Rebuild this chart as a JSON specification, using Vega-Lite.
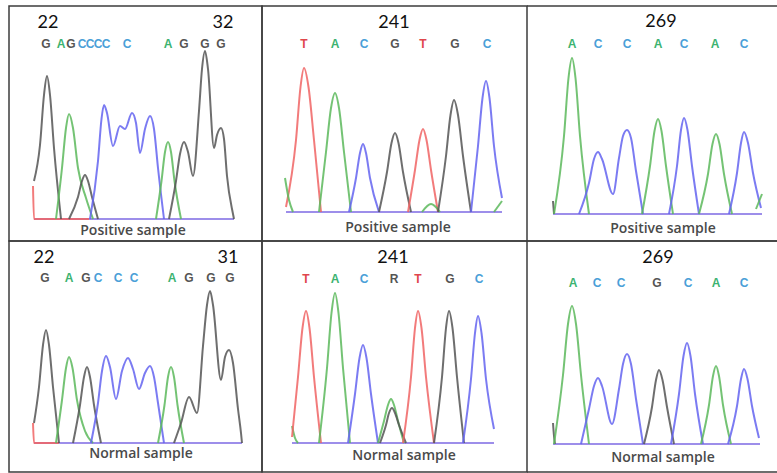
{
"$schema": "https://vega.github.io/schema/vega-lite/v6.json",
"padding": {"left": 8, "top": 5, "right": 0, "bottom": 2},
"background": "white",
"config": {"view": {"stroke": "#3c3c3c", "strokeWidth": 1.5}, "concat": {"spacing": 0}},
"datasets": {
"tr": [
{"p":1,"s":"1z","b":"base","x":25,"y":0},{"p":1,"s":"1z","b":"base","x":225,"y":0},
{"p":1,"s":"1r","b":"T","x":24,"y":33},{"p":1,"s":"1r","b":"T","x":25,"y":0},{"p":1,"s":"1r","b":"T","x":80,"y":0},
{"p":1,"s":"1g1","b":"G","x":25,"y":38},{"p":1,"s":"1g1","b":"G","x":31,"y":74},{"p":1,"s":"1g1","b":"G","x":35,"y":124},{"p":1,"s":"1g1","b":"G","x":38,"y":143},{"p":1,"s":"1g1","b":"G","x":41,"y":124},{"p":1,"s":"1g1","b":"G","x":45,"y":71},{"p":1,"s":"1g1","b":"G","x":52,"y":0},
{"p":1,"s":"1a1","b":"A","x":47,"y":0},{"p":1,"s":"1a1","b":"A","x":53,"y":51},{"p":1,"s":"1a1","b":"A","x":57,"y":91},{"p":1,"s":"1a1","b":"A","x":60,"y":105},{"p":1,"s":"1a1","b":"A","x":64,"y":91},{"p":1,"s":"1a1","b":"A","x":69,"y":51},{"p":1,"s":"1a1","b":"A","x":77,"y":21},{"p":1,"s":"1a1","b":"A","x":84,"y":0},
{"p":1,"s":"1g2","b":"G","x":60,"y":0},{"p":1,"s":"1g2","b":"G","x":69,"y":22},{"p":1,"s":"1g2","b":"G","x":73,"y":38},{"p":1,"s":"1g2","b":"G","x":76,"y":44},{"p":1,"s":"1g2","b":"G","x":79,"y":38},{"p":1,"s":"1g2","b":"G","x":83,"y":22},{"p":1,"s":"1g2","b":"G","x":89,"y":0},
{"p":1,"s":"1c","b":"C","x":81,"y":0},{"p":1,"s":"1c","b":"C","x":89,"y":58},{"p":1,"s":"1c","b":"C","x":92.5,"y":100},{"p":1,"s":"1c","b":"C","x":95,"y":114},{"p":1,"s":"1c","b":"C","x":98,"y":106},{"p":1,"s":"1c","b":"C","x":104,"y":73},{"p":1,"s":"1c","b":"C","x":111,"y":93},{"p":1,"s":"1c","b":"C","x":116,"y":90},{"p":1,"s":"1c","b":"C","x":123,"y":106},{"p":1,"s":"1c","b":"C","x":127,"y":96},{"p":1,"s":"1c","b":"C","x":131,"y":66},{"p":1,"s":"1c","b":"C","x":136,"y":90},{"p":1,"s":"1c","b":"C","x":141,"y":103},{"p":1,"s":"1c","b":"C","x":145,"y":90},{"p":1,"s":"1c","b":"C","x":149,"y":51},{"p":1,"s":"1c","b":"C","x":155,"y":0},
{"p":1,"s":"1a2","b":"A","x":147,"y":0},{"p":1,"s":"1a2","b":"A","x":152.5,"y":38},{"p":1,"s":"1a2","b":"A","x":156,"y":67},{"p":1,"s":"1a2","b":"A","x":159,"y":77},{"p":1,"s":"1a2","b":"A","x":162,"y":67},{"p":1,"s":"1a2","b":"A","x":165.5,"y":38},{"p":1,"s":"1a2","b":"A","x":172,"y":0},
{"p":1,"s":"1g3","b":"G","x":160,"y":0},{"p":1,"s":"1g3","b":"G","x":167,"y":38},{"p":1,"s":"1g3","b":"G","x":171,"y":65},{"p":1,"s":"1g3","b":"G","x":175,"y":77},{"p":1,"s":"1g3","b":"G","x":179,"y":67},{"p":1,"s":"1g3","b":"G","x":184,"y":43},{"p":1,"s":"1g3","b":"G","x":190,"y":108},{"p":1,"s":"1g3","b":"G","x":193,"y":150},{"p":1,"s":"1g3","b":"G","x":196,"y":168},{"p":1,"s":"1g3","b":"G","x":199,"y":150},{"p":1,"s":"1g3","b":"G","x":205,"y":71},{"p":1,"s":"1g3","b":"G","x":208,"y":84},{"p":1,"s":"1g3","b":"G","x":212,"y":91},{"p":1,"s":"1g3","b":"G","x":215,"y":80},{"p":1,"s":"1g3","b":"G","x":218,"y":43},{"p":1,"s":"1g3","b":"G","x":224,"y":5},{"p":1,"s":"1g3","b":"G","x":225,"y":0},

{"p":2,"s":"2z","b":"base","x":24,"y":0},{"p":2,"s":"2z","b":"base","x":240,"y":0},
{"p":2,"s":"2t1","b":"T","x":24,"y":5},{"p":2,"s":"2t1","b":"T","x":34,"y":72},{"p":2,"s":"2t1","b":"T","x":38.5,"y":125},{"p":2,"s":"2t1","b":"T","x":42,"y":144},{"p":2,"s":"2t1","b":"T","x":46.5,"y":125},{"p":2,"s":"2t1","b":"T","x":52,"y":72},{"p":2,"s":"2t1","b":"T","x":59,"y":0},
{"p":2,"s":"2a0","b":"A","x":23,"y":34},{"p":2,"s":"2a0","b":"A","x":27,"y":12},{"p":2,"s":"2a0","b":"A","x":31,"y":0},
{"p":2,"s":"2a1","b":"A","x":57,"y":0},{"p":2,"s":"2a1","b":"A","x":64,"y":60},{"p":2,"s":"2a1","b":"A","x":69,"y":104},{"p":2,"s":"2a1","b":"A","x":73,"y":119},{"p":2,"s":"2a1","b":"A","x":77,"y":104},{"p":2,"s":"2a1","b":"A","x":82,"y":60},{"p":2,"s":"2a1","b":"A","x":89,"y":0},
{"p":2,"s":"2c1","b":"C","x":87,"y":0},{"p":2,"s":"2c1","b":"C","x":94,"y":34},{"p":2,"s":"2c1","b":"C","x":98,"y":59},{"p":2,"s":"2c1","b":"C","x":101,"y":68},{"p":2,"s":"2c1","b":"C","x":104,"y":59},{"p":2,"s":"2c1","b":"C","x":108,"y":34},{"p":2,"s":"2c1","b":"C","x":117,"y":0},
{"p":2,"s":"2g1","b":"G","x":117,"y":0},{"p":2,"s":"2g1","b":"G","x":125,"y":40},{"p":2,"s":"2g1","b":"G","x":129.5,"y":69},{"p":2,"s":"2g1","b":"G","x":133,"y":79},{"p":2,"s":"2g1","b":"G","x":136.5,"y":69},{"p":2,"s":"2g1","b":"G","x":141,"y":40},{"p":2,"s":"2g1","b":"G","x":149,"y":0},
{"p":2,"s":"2t2","b":"T","x":146,"y":0},{"p":2,"s":"2t2","b":"T","x":153,"y":42},{"p":2,"s":"2t2","b":"T","x":157.5,"y":72},{"p":2,"s":"2t2","b":"T","x":161,"y":83},{"p":2,"s":"2t2","b":"T","x":164.5,"y":72},{"p":2,"s":"2t2","b":"T","x":169,"y":42},{"p":2,"s":"2t2","b":"T","x":176,"y":0},
{"p":2,"s":"2a2","b":"A","x":160,"y":0},{"p":2,"s":"2a2","b":"A","x":169,"y":8},{"p":2,"s":"2a2","b":"A","x":178,"y":0},
{"p":2,"s":"2g2","b":"G","x":176,"y":0},{"p":2,"s":"2g2","b":"G","x":184,"y":56},{"p":2,"s":"2g2","b":"G","x":188.5,"y":97},{"p":2,"s":"2g2","b":"G","x":192,"y":112},{"p":2,"s":"2g2","b":"G","x":196,"y":97},{"p":2,"s":"2g2","b":"G","x":201,"y":56},{"p":2,"s":"2g2","b":"G","x":209,"y":0},
{"p":2,"s":"2c2","b":"C","x":209,"y":0},{"p":2,"s":"2c2","b":"C","x":216,"y":66},{"p":2,"s":"2c2","b":"C","x":220.5,"y":114},{"p":2,"s":"2c2","b":"C","x":224,"y":131},{"p":2,"s":"2c2","b":"C","x":227.5,"y":114},{"p":2,"s":"2c2","b":"C","x":232,"y":66},{"p":2,"s":"2c2","b":"C","x":240,"y":14},
{"p":2,"s":"2a3","b":"A","x":232,"y":0},{"p":2,"s":"2a3","b":"A","x":240,"y":11},

{"p":3,"s":"3z","b":"base","x":26,"y":0},{"p":3,"s":"3z","b":"base","x":235,"y":0},
{"p":3,"s":"3g0","b":"G","x":26,"y":13},{"p":3,"s":"3g0","b":"G","x":27,"y":0},
{"p":3,"s":"3a1","b":"A","x":27,"y":0},{"p":3,"s":"3a1","b":"A","x":37,"y":78},{"p":3,"s":"3a1","b":"A","x":41.5,"y":136},{"p":3,"s":"3a1","b":"A","x":45,"y":156},{"p":3,"s":"3a1","b":"A","x":48.5,"y":136},{"p":3,"s":"3a1","b":"A","x":53,"y":78},{"p":3,"s":"3a1","b":"A","x":62,"y":0},
{"p":3,"s":"3c1","b":"C","x":52,"y":0},{"p":3,"s":"3c1","b":"C","x":62,"y":31},{"p":3,"s":"3c1","b":"C","x":67,"y":55},{"p":3,"s":"3c1","b":"C","x":71,"y":62},{"p":3,"s":"3c1","b":"C","x":75,"y":55},{"p":3,"s":"3c1","b":"C","x":86,"y":20},{"p":3,"s":"3c1","b":"C","x":92,"y":56},{"p":3,"s":"3c1","b":"C","x":96,"y":78},{"p":3,"s":"3c1","b":"C","x":100,"y":84},{"p":3,"s":"3c1","b":"C","x":104,"y":76},{"p":3,"s":"3c1","b":"C","x":109,"y":43},{"p":3,"s":"3c1","b":"C","x":116,"y":0},
{"p":3,"s":"3a2","b":"A","x":115,"y":0},{"p":3,"s":"3a2","b":"A","x":123,"y":48},{"p":3,"s":"3a2","b":"A","x":127.5,"y":83},{"p":3,"s":"3a2","b":"A","x":131,"y":95},{"p":3,"s":"3a2","b":"A","x":134.5,"y":83},{"p":3,"s":"3a2","b":"A","x":139,"y":48},{"p":3,"s":"3a2","b":"A","x":146,"y":0},
{"p":3,"s":"3c2","b":"C","x":142,"y":0},{"p":3,"s":"3c2","b":"C","x":150,"y":48},{"p":3,"s":"3c2","b":"C","x":154,"y":84},{"p":3,"s":"3c2","b":"C","x":157,"y":96},{"p":3,"s":"3c2","b":"C","x":160.5,"y":84},{"p":3,"s":"3c2","b":"C","x":165,"y":48},{"p":3,"s":"3c2","b":"C","x":172,"y":0},
{"p":3,"s":"3a3","b":"A","x":172,"y":0},{"p":3,"s":"3a3","b":"A","x":181,"y":40},{"p":3,"s":"3a3","b":"A","x":185.5,"y":70},{"p":3,"s":"3a3","b":"A","x":189,"y":80},{"p":3,"s":"3a3","b":"A","x":192.5,"y":70},{"p":3,"s":"3a3","b":"A","x":197,"y":40},{"p":3,"s":"3a3","b":"A","x":205,"y":0},
{"p":3,"s":"3c3","b":"C","x":202,"y":0},{"p":3,"s":"3c3","b":"C","x":210,"y":41},{"p":3,"s":"3c3","b":"C","x":214,"y":71},{"p":3,"s":"3c3","b":"C","x":217,"y":82},{"p":3,"s":"3c3","b":"C","x":221,"y":71},{"p":3,"s":"3c3","b":"C","x":226,"y":41},{"p":3,"s":"3c3","b":"C","x":234,"y":6},
{"p":3,"s":"3a4","b":"A","x":229,"y":5},{"p":3,"s":"3a4","b":"A","x":235,"y":20},

{"p":4,"s":"4z","b":"base","x":25,"y":0},{"p":4,"s":"4z","b":"base","x":233,"y":0},
{"p":4,"s":"4r","b":"T","x":24,"y":20},{"p":4,"s":"4r","b":"T","x":25,"y":0},{"p":4,"s":"4r","b":"T","x":50,"y":0},
{"p":4,"s":"4g1","b":"G","x":25,"y":20},{"p":4,"s":"4g1","b":"G","x":30,"y":56},{"p":4,"s":"4g1","b":"G","x":34,"y":98},{"p":4,"s":"4g1","b":"G","x":37,"y":113},{"p":4,"s":"4g1","b":"G","x":40,"y":98},{"p":4,"s":"4g1","b":"G","x":44,"y":56},{"p":4,"s":"4g1","b":"G","x":50,"y":0},
{"p":4,"s":"4a1","b":"A","x":47,"y":0},{"p":4,"s":"4a1","b":"A","x":53,"y":43},{"p":4,"s":"4a1","b":"A","x":57,"y":75},{"p":4,"s":"4a1","b":"A","x":60,"y":86},{"p":4,"s":"4a1","b":"A","x":63.5,"y":75},{"p":4,"s":"4a1","b":"A","x":68,"y":43},{"p":4,"s":"4a1","b":"A","x":76,"y":12},{"p":4,"s":"4a1","b":"A","x":84,"y":0},
{"p":4,"s":"4g2","b":"G","x":64,"y":0},{"p":4,"s":"4g2","b":"G","x":71,"y":38},{"p":4,"s":"4g2","b":"G","x":75,"y":66},{"p":4,"s":"4g2","b":"G","x":78,"y":76},{"p":4,"s":"4g2","b":"G","x":81,"y":66},{"p":4,"s":"4g2","b":"G","x":85,"y":38},{"p":4,"s":"4g2","b":"G","x":92,"y":0},
{"p":4,"s":"4c","b":"C","x":82,"y":0},{"p":4,"s":"4c","b":"C","x":89,"y":40},{"p":4,"s":"4c","b":"C","x":93,"y":72},{"p":4,"s":"4c","b":"C","x":97,"y":87},{"p":4,"s":"4c","b":"C","x":101,"y":76},{"p":4,"s":"4c","b":"C","x":107,"y":44},{"p":4,"s":"4c","b":"C","x":113,"y":72},{"p":4,"s":"4c","b":"C","x":119,"y":85},{"p":4,"s":"4c","b":"C","x":124,"y":74},{"p":4,"s":"4c","b":"C","x":130,"y":54},{"p":4,"s":"4c","b":"C","x":136,"y":70},{"p":4,"s":"4c","b":"C","x":141,"y":77},{"p":4,"s":"4c","b":"C","x":145,"y":66},{"p":4,"s":"4c","b":"C","x":149,"y":40},{"p":4,"s":"4c","b":"C","x":155,"y":0},
{"p":4,"s":"4a2","b":"A","x":149,"y":0},{"p":4,"s":"4a2","b":"A","x":155.5,"y":38},{"p":4,"s":"4a2","b":"A","x":159,"y":66},{"p":4,"s":"4a2","b":"A","x":162,"y":76},{"p":4,"s":"4a2","b":"A","x":165,"y":66},{"p":4,"s":"4a2","b":"A","x":168.5,"y":38},{"p":4,"s":"4a2","b":"A","x":175,"y":0},
{"p":4,"s":"4g3","b":"G","x":165,"y":0},{"p":4,"s":"4g3","b":"G","x":172,"y":20},{"p":4,"s":"4g3","b":"G","x":180,"y":46},{"p":4,"s":"4g3","b":"G","x":188,"y":30},{"p":4,"s":"4g3","b":"G","x":194,"y":97},{"p":4,"s":"4g3","b":"G","x":198,"y":138},{"p":4,"s":"4g3","b":"G","x":201,"y":152},{"p":4,"s":"4g3","b":"G","x":204,"y":138},{"p":4,"s":"4g3","b":"G","x":212,"y":63},{"p":4,"s":"4g3","b":"G","x":216,"y":86},{"p":4,"s":"4g3","b":"G","x":220,"y":93},{"p":4,"s":"4g3","b":"G","x":224,"y":80},{"p":4,"s":"4g3","b":"G","x":229,"y":34},{"p":4,"s":"4g3","b":"G","x":232,"y":10},{"p":4,"s":"4g3","b":"G","x":233,"y":0},

{"p":5,"s":"5z","b":"base","x":30,"y":0},{"p":5,"s":"5z","b":"base","x":232,"y":0},
{"p":5,"s":"5a0","b":"A","x":30,"y":17},{"p":5,"s":"5a0","b":"A","x":33,"y":5},{"p":5,"s":"5a0","b":"A","x":36,"y":0},
{"p":5,"s":"5t1","b":"T","x":30,"y":6},{"p":5,"s":"5t1","b":"T","x":36,"y":66},{"p":5,"s":"5t1","b":"T","x":40.5,"y":115},{"p":5,"s":"5t1","b":"T","x":44,"y":132},{"p":5,"s":"5t1","b":"T","x":47.5,"y":115},{"p":5,"s":"5t1","b":"T","x":52,"y":66},{"p":5,"s":"5t1","b":"T","x":59,"y":0},
{"p":5,"s":"5a1","b":"A","x":57,"y":0},{"p":5,"s":"5a1","b":"A","x":65,"y":75},{"p":5,"s":"5a1","b":"A","x":69.5,"y":130},{"p":5,"s":"5a1","b":"A","x":73,"y":150},{"p":5,"s":"5a1","b":"A","x":76.5,"y":130},{"p":5,"s":"5a1","b":"A","x":81,"y":75},{"p":5,"s":"5a1","b":"A","x":88,"y":0},
{"p":5,"s":"5c1","b":"C","x":86,"y":0},{"p":5,"s":"5c1","b":"C","x":93,"y":49},{"p":5,"s":"5c1","b":"C","x":97.5,"y":85},{"p":5,"s":"5c1","b":"C","x":101,"y":98},{"p":5,"s":"5c1","b":"C","x":104.5,"y":85},{"p":5,"s":"5c1","b":"C","x":109,"y":49},{"p":5,"s":"5c1","b":"C","x":116,"y":0},
{"p":5,"s":"5a2","b":"A","x":116,"y":0},{"p":5,"s":"5a2","b":"A","x":122,"y":22},{"p":5,"s":"5a2","b":"A","x":126,"y":38},{"p":5,"s":"5a2","b":"A","x":129,"y":44},{"p":5,"s":"5a2","b":"A","x":132,"y":38},{"p":5,"s":"5a2","b":"A","x":136,"y":22},{"p":5,"s":"5a2","b":"A","x":142,"y":0},
{"p":5,"s":"5g1","b":"G","x":118,"y":0},{"p":5,"s":"5g1","b":"G","x":124,"y":18},{"p":5,"s":"5g1","b":"G","x":127,"y":30},{"p":5,"s":"5g1","b":"G","x":130,"y":35},{"p":5,"s":"5g1","b":"G","x":133,"y":30},{"p":5,"s":"5g1","b":"G","x":137,"y":18},{"p":5,"s":"5g1","b":"G","x":144,"y":0},
{"p":5,"s":"5t2","b":"T","x":141,"y":0},{"p":5,"s":"5t2","b":"T","x":149,"y":66},{"p":5,"s":"5t2","b":"T","x":153,"y":115},{"p":5,"s":"5t2","b":"T","x":156,"y":132},{"p":5,"s":"5t2","b":"T","x":159.5,"y":115},{"p":5,"s":"5t2","b":"T","x":164,"y":66},{"p":5,"s":"5t2","b":"T","x":172,"y":0},
{"p":5,"s":"5g2","b":"G","x":172,"y":0},{"p":5,"s":"5g2","b":"G","x":180,"y":66},{"p":5,"s":"5g2","b":"G","x":184,"y":115},{"p":5,"s":"5g2","b":"G","x":187,"y":132},{"p":5,"s":"5g2","b":"G","x":190.5,"y":115},{"p":5,"s":"5g2","b":"G","x":195,"y":66},{"p":5,"s":"5g2","b":"G","x":202,"y":0},
{"p":5,"s":"5c2","b":"C","x":201,"y":0},{"p":5,"s":"5c2","b":"C","x":209,"y":64},{"p":5,"s":"5c2","b":"C","x":213,"y":110},{"p":5,"s":"5c2","b":"C","x":216,"y":127},{"p":5,"s":"5c2","b":"C","x":219.5,"y":110},{"p":5,"s":"5c2","b":"C","x":224,"y":64},{"p":5,"s":"5c2","b":"C","x":232,"y":14},

{"p":6,"s":"6z","b":"base","x":26,"y":0},{"p":6,"s":"6z","b":"base","x":233,"y":0},
{"p":6,"s":"6g0","b":"G","x":26,"y":21},{"p":6,"s":"6g0","b":"G","x":27,"y":8},{"p":6,"s":"6g0","b":"G","x":28,"y":0},
{"p":6,"s":"6a1","b":"A","x":27,"y":0},{"p":6,"s":"6a1","b":"A","x":36,"y":69},{"p":6,"s":"6a1","b":"A","x":41,"y":120},{"p":6,"s":"6a1","b":"A","x":45,"y":138},{"p":6,"s":"6a1","b":"A","x":49,"y":120},{"p":6,"s":"6a1","b":"A","x":54,"y":69},{"p":6,"s":"6a1","b":"A","x":62,"y":0},
{"p":6,"s":"6c1","b":"C","x":54,"y":0},{"p":6,"s":"6c1","b":"C","x":62,"y":35},{"p":6,"s":"6c1","b":"C","x":67,"y":58},{"p":6,"s":"6c1","b":"C","x":71,"y":66},{"p":6,"s":"6c1","b":"C","x":75,"y":58},{"p":6,"s":"6c1","b":"C","x":85,"y":20},{"p":6,"s":"6c1","b":"C","x":92,"y":55},{"p":6,"s":"6c1","b":"C","x":96,"y":80},{"p":6,"s":"6c1","b":"C","x":100,"y":90},{"p":6,"s":"6c1","b":"C","x":104,"y":80},{"p":6,"s":"6c1","b":"C","x":109,"y":45},{"p":6,"s":"6c1","b":"C","x":116,"y":0},
{"p":6,"s":"6g1","b":"G","x":117,"y":0},{"p":6,"s":"6g1","b":"G","x":125,"y":37},{"p":6,"s":"6g1","b":"G","x":129,"y":64},{"p":6,"s":"6g1","b":"G","x":132,"y":74},{"p":6,"s":"6g1","b":"G","x":135.5,"y":64},{"p":6,"s":"6g1","b":"G","x":140,"y":37},{"p":6,"s":"6g1","b":"G","x":147,"y":0},
{"p":6,"s":"6c2","b":"C","x":144,"y":0},{"p":6,"s":"6c2","b":"C","x":152,"y":50},{"p":6,"s":"6c2","b":"C","x":156.5,"y":88},{"p":6,"s":"6c2","b":"C","x":160,"y":101},{"p":6,"s":"6c2","b":"C","x":163.5,"y":88},{"p":6,"s":"6c2","b":"C","x":168,"y":50},{"p":6,"s":"6c2","b":"C","x":176,"y":0},
{"p":6,"s":"6a2","b":"A","x":174,"y":0},{"p":6,"s":"6a2","b":"A","x":182,"y":39},{"p":6,"s":"6a2","b":"A","x":186,"y":68},{"p":6,"s":"6a2","b":"A","x":189,"y":78},{"p":6,"s":"6a2","b":"A","x":192,"y":68},{"p":6,"s":"6a2","b":"A","x":196,"y":39},{"p":6,"s":"6a2","b":"A","x":204,"y":0},
{"p":6,"s":"6c3","b":"C","x":201,"y":0},{"p":6,"s":"6c3","b":"C","x":210,"y":38},{"p":6,"s":"6c3","b":"C","x":214,"y":65},{"p":6,"s":"6c3","b":"C","x":217,"y":75},{"p":6,"s":"6c3","b":"C","x":220.5,"y":65},{"p":6,"s":"6c3","b":"C","x":225,"y":38},{"p":6,"s":"6c3","b":"C","x":232,"y":6}
],
"lb": [
{"p":1,"k":"n","t":"22","x":39,"y":196},{"p":1,"k":"n","t":"32","x":214,"y":196},
{"p":1,"k":"l","t":"G","b":"G","x":37,"y":175},{"p":1,"k":"l","t":"A","b":"A","x":52,"y":175},{"p":1,"k":"l","t":"G","b":"G","x":62,"y":175},{"p":1,"k":"l","t":"C","b":"C","x":73,"y":175},{"p":1,"k":"l","t":"C","b":"C","x":81,"y":175},{"p":1,"k":"l","t":"C","b":"C","x":89,"y":175},{"p":1,"k":"l","t":"C","b":"C","x":97,"y":175},{"p":1,"k":"l","t":"C","b":"C","x":118,"y":175},{"p":1,"k":"l","t":"A","b":"A","x":159,"y":175},{"p":1,"k":"l","t":"G","b":"G","x":175,"y":175},{"p":1,"k":"l","t":"G","b":"G","x":196,"y":175},{"p":1,"k":"l","t":"G","b":"G","x":212,"y":175},
{"p":1,"k":"c","t":"Positive sample","x":124,"y":-12},
{"p":2,"k":"n","t":"241","x":132,"y":189},
{"p":2,"k":"l","t":"T","b":"T","x":42,"y":168},{"p":2,"k":"l","t":"A","b":"A","x":73,"y":168},{"p":2,"k":"l","t":"C","b":"C","x":102,"y":168},{"p":2,"k":"l","t":"G","b":"G","x":133,"y":168},{"p":2,"k":"l","t":"T","b":"T","x":161,"y":168},{"p":2,"k":"l","t":"G","b":"G","x":193,"y":168},{"p":2,"k":"l","t":"C","b":"C","x":225,"y":168},
{"p":2,"k":"c","t":"Positive sample","x":136,"y":-16},
{"p":3,"k":"n","t":"269","x":134,"y":192},
{"p":3,"k":"l","t":"A","b":"A","x":45,"y":170},{"p":3,"k":"l","t":"C","b":"C","x":71,"y":170},{"p":3,"k":"l","t":"C","b":"C","x":100,"y":170},{"p":3,"k":"l","t":"A","b":"A","x":131,"y":170},{"p":3,"k":"l","t":"C","b":"C","x":157,"y":170},{"p":3,"k":"l","t":"A","b":"A","x":188,"y":170},{"p":3,"k":"l","t":"C","b":"C","x":217,"y":170},
{"p":3,"k":"c","t":"Positive sample","x":136,"y":-15},
{"p":4,"k":"n","t":"22","x":35,"y":185},{"p":4,"k":"n","t":"31","x":219,"y":185},
{"p":4,"k":"l","t":"G","b":"G","x":36,"y":165},{"p":4,"k":"l","t":"A","b":"A","x":60,"y":165},{"p":4,"k":"l","t":"G","b":"G","x":77,"y":165},{"p":4,"k":"l","t":"C","b":"C","x":89,"y":165},{"p":4,"k":"l","t":"C","b":"C","x":109,"y":165},{"p":4,"k":"l","t":"C","b":"C","x":125,"y":165},{"p":4,"k":"l","t":"A","b":"A","x":163,"y":165},{"p":4,"k":"l","t":"G","b":"G","x":180,"y":165},{"p":4,"k":"l","t":"G","b":"G","x":202,"y":165},{"p":4,"k":"l","t":"G","b":"G","x":221,"y":165},
{"p":4,"k":"c","t":"Normal sample","x":132,"y":-11},
{"p":5,"k":"n","t":"241","x":131,"y":185},
{"p":5,"k":"l","t":"T","b":"T","x":44,"y":164},{"p":5,"k":"l","t":"A","b":"A","x":73,"y":164},{"p":5,"k":"l","t":"C","b":"C","x":102,"y":164},{"p":5,"k":"l","t":"R","b":"R","x":132,"y":164},{"p":5,"k":"l","t":"T","b":"T","x":156,"y":164},{"p":5,"k":"l","t":"G","b":"G","x":188,"y":164},{"p":5,"k":"l","t":"C","b":"C","x":217,"y":164},
{"p":5,"k":"c","t":"Normal sample","x":142,"y":-13},
{"p":6,"k":"n","t":"269","x":131,"y":186},
{"p":6,"k":"l","t":"A","b":"A","x":46,"y":161},{"p":6,"k":"l","t":"C","b":"C","x":70,"y":161},{"p":6,"k":"l","t":"C","b":"C","x":94,"y":161},{"p":6,"k":"l","t":"G","b":"G","x":130,"y":161},{"p":6,"k":"l","t":"C","b":"C","x":161,"y":161},{"p":6,"k":"l","t":"A","b":"A","x":189,"y":161},{"p":6,"k":"l","t":"C","b":"C","x":217,"y":161},
{"p":6,"k":"c","t":"Normal sample","x":136,"y":-14}
],
"fr": [
{"p":3,"x":0,"x2":251,"y":208},{"p":3,"x":0,"x2":251,"y":-27},
{"p":6,"x":0,"x2":251,"y":203},{"p":6,"x":0,"x2":251,"y":-28}
]
},
"columns": 3,
"spacing": 0,
"bounds": "flush",
"resolve": {"scale": {"x": "independent", "y": "independent"}},
"concat": [
{"width": 253, "height": 235,
 "encoding": {"x": {"field": "x", "type": "quantitative", "scale": {"domain": [0, 253], "nice": false, "zero": false}, "axis": null},
              "y": {"field": "y", "type": "quantitative", "scale": {"domain": [-22, 213], "nice": false, "zero": false}, "axis": null}},
 "layer": [
  {"data": {"name": "tr"}, "transform": [{"filter": "datum.p == 1"}], "mark": {"type": "line", "interpolate": "monotone", "strokeWidth": 2, "strokeOpacity": 0.85}, "encoding": {"stroke": {"field": "b", "type": "nominal", "scale": {"domain": ["A","C","G","T","base"], "range": ["#5cb85c","#6464f0","#555555","#f06464","#8c7ae6"]}, "legend": null}, "detail": {"field": "s"}}},
  {"data": {"name": "lb"}, "transform": [{"filter": "datum.p == 1 && datum.k == 'n'"}], "mark": {"type": "text", "font": "Lato", "fontSize": 18, "fill": "#111111"}, "encoding": {"text": {"field": "t"}}},
  {"data": {"name": "lb"}, "transform": [{"filter": "datum.p == 1 && datum.k == 'l'"}], "mark": {"type": "text", "font": "Liberation Sans", "fontWeight": "bold", "fontSize": 12}, "encoding": {"text": {"field": "t"}, "fill": {"field": "b", "type": "nominal", "scale": {"domain": ["A","C","G","T","R"], "range": ["#3cb371","#4a9fd8","#555555","#e0474c","#555555"]}, "legend": null}}},
  {"data": {"name": "lb"}, "transform": [{"filter": "datum.p == 1 && datum.k == 'c'"}], "mark": {"type": "text", "font": "Open Sans", "fontSize": 14, "fontWeight": 600, "fill": "#4a4a4a"}, "encoding": {"text": {"field": "t"}}}
 ]},
{"width": 265, "height": 235,
 "encoding": {"x": {"field": "x", "type": "quantitative", "scale": {"domain": [0, 265], "nice": false, "zero": false}, "axis": null},
              "y": {"field": "y", "type": "quantitative", "scale": {"domain": [-29, 206], "nice": false, "zero": false}, "axis": null}},
 "layer": [
  {"data": {"name": "tr"}, "transform": [{"filter": "datum.p == 2"}], "mark": {"type": "line", "interpolate": "monotone", "strokeWidth": 2, "strokeOpacity": 0.85}, "encoding": {"stroke": {"field": "b", "type": "nominal", "scale": {"domain": ["A","C","G","T","base"], "range": ["#5cb85c","#6464f0","#555555","#f06464","#8c7ae6"]}, "legend": null}, "detail": {"field": "s"}}},
  {"data": {"name": "lb"}, "transform": [{"filter": "datum.p == 2 && datum.k == 'n'"}], "mark": {"type": "text", "font": "Lato", "fontSize": 18, "fill": "#111111"}, "encoding": {"text": {"field": "t"}}},
  {"data": {"name": "lb"}, "transform": [{"filter": "datum.p == 2 && datum.k == 'l'"}], "mark": {"type": "text", "font": "Liberation Sans", "fontWeight": "bold", "fontSize": 12}, "encoding": {"text": {"field": "t"}, "fill": {"field": "b", "type": "nominal", "scale": {"domain": ["A","C","G","T","R"], "range": ["#3cb371","#4a9fd8","#555555","#e0474c","#555555"]}, "legend": null}}},
  {"data": {"name": "lb"}, "transform": [{"filter": "datum.p == 2 && datum.k == 'c'"}], "mark": {"type": "text", "font": "Open Sans", "fontSize": 14, "fontWeight": 600, "fill": "#4a4a4a"}, "encoding": {"text": {"field": "t"}}}
 ]},
{"width": 251, "height": 235, "view": {"stroke": null},
 "encoding": {"x": {"field": "x", "type": "quantitative", "scale": {"domain": [0, 251], "nice": false, "zero": false}, "axis": null},
              "y": {"field": "y", "type": "quantitative", "scale": {"domain": [-27, 208], "nice": false, "zero": false}, "axis": null}},
 "layer": [
  {"data": {"name": "fr"}, "transform": [{"filter": "datum.p == 3"}], "mark": {"type": "rule", "stroke": "#3c3c3c", "strokeWidth": 1.5}, "encoding": {"x2": {"field": "x2"}}},
  {"data": {"name": "tr"}, "transform": [{"filter": "datum.p == 3"}], "mark": {"type": "line", "interpolate": "monotone", "strokeWidth": 2, "strokeOpacity": 0.85}, "encoding": {"stroke": {"field": "b", "type": "nominal", "scale": {"domain": ["A","C","G","T","base"], "range": ["#5cb85c","#6464f0","#555555","#f06464","#8c7ae6"]}, "legend": null}, "detail": {"field": "s"}}},
  {"data": {"name": "lb"}, "transform": [{"filter": "datum.p == 3 && datum.k == 'n'"}], "mark": {"type": "text", "font": "Lato", "fontSize": 18, "fill": "#111111"}, "encoding": {"text": {"field": "t"}}},
  {"data": {"name": "lb"}, "transform": [{"filter": "datum.p == 3 && datum.k == 'l'"}], "mark": {"type": "text", "font": "Liberation Sans", "fontWeight": "bold", "fontSize": 12}, "encoding": {"text": {"field": "t"}, "fill": {"field": "b", "type": "nominal", "scale": {"domain": ["A","C","G","T","R"], "range": ["#3cb371","#4a9fd8","#555555","#e0474c","#555555"]}, "legend": null}}},
  {"data": {"name": "lb"}, "transform": [{"filter": "datum.p == 3 && datum.k == 'c'"}], "mark": {"type": "text", "font": "Open Sans", "fontSize": 14, "fontWeight": 600, "fill": "#4a4a4a"}, "encoding": {"text": {"field": "t"}}}
 ]},
{"width": 253, "height": 231,
 "encoding": {"x": {"field": "x", "type": "quantitative", "scale": {"domain": [0, 253], "nice": false, "zero": false}, "axis": null},
              "y": {"field": "y", "type": "quantitative", "scale": {"domain": [-29, 202], "nice": false, "zero": false}, "axis": null}},
 "layer": [
  {"data": {"name": "tr"}, "transform": [{"filter": "datum.p == 4"}], "mark": {"type": "line", "interpolate": "monotone", "strokeWidth": 2, "strokeOpacity": 0.85}, "encoding": {"stroke": {"field": "b", "type": "nominal", "scale": {"domain": ["A","C","G","T","base"], "range": ["#5cb85c","#6464f0","#555555","#f06464","#8c7ae6"]}, "legend": null}, "detail": {"field": "s"}}},
  {"data": {"name": "lb"}, "transform": [{"filter": "datum.p == 4 && datum.k == 'n'"}], "mark": {"type": "text", "font": "Lato", "fontSize": 18, "fill": "#111111"}, "encoding": {"text": {"field": "t"}}},
  {"data": {"name": "lb"}, "transform": [{"filter": "datum.p == 4 && datum.k == 'l'"}], "mark": {"type": "text", "font": "Liberation Sans", "fontWeight": "bold", "fontSize": 12}, "encoding": {"text": {"field": "t"}, "fill": {"field": "b", "type": "nominal", "scale": {"domain": ["A","C","G","T","R"], "range": ["#3cb371","#4a9fd8","#555555","#e0474c","#555555"]}, "legend": null}}},
  {"data": {"name": "lb"}, "transform": [{"filter": "datum.p == 4 && datum.k == 'c'"}], "mark": {"type": "text", "font": "Open Sans", "fontSize": 14, "fontWeight": 600, "fill": "#4a4a4a"}, "encoding": {"text": {"field": "t"}}}
 ]},
{"width": 265, "height": 231,
 "encoding": {"x": {"field": "x", "type": "quantitative", "scale": {"domain": [0, 265], "nice": false, "zero": false}, "axis": null},
              "y": {"field": "y", "type": "quantitative", "scale": {"domain": [-29, 202], "nice": false, "zero": false}, "axis": null}},
 "layer": [
  {"data": {"name": "tr"}, "transform": [{"filter": "datum.p == 5"}], "mark": {"type": "line", "interpolate": "monotone", "strokeWidth": 2, "strokeOpacity": 0.85}, "encoding": {"stroke": {"field": "b", "type": "nominal", "scale": {"domain": ["A","C","G","T","base"], "range": ["#5cb85c","#6464f0","#555555","#f06464","#8c7ae6"]}, "legend": null}, "detail": {"field": "s"}}},
  {"data": {"name": "lb"}, "transform": [{"filter": "datum.p == 5 && datum.k == 'n'"}], "mark": {"type": "text", "font": "Lato", "fontSize": 18, "fill": "#111111"}, "encoding": {"text": {"field": "t"}}},
  {"data": {"name": "lb"}, "transform": [{"filter": "datum.p == 5 && datum.k == 'l'"}], "mark": {"type": "text", "font": "Liberation Sans", "fontWeight": "bold", "fontSize": 12}, "encoding": {"text": {"field": "t"}, "fill": {"field": "b", "type": "nominal", "scale": {"domain": ["A","C","G","T","R"], "range": ["#3cb371","#4a9fd8","#555555","#e0474c","#555555"]}, "legend": null}}},
  {"data": {"name": "lb"}, "transform": [{"filter": "datum.p == 5 && datum.k == 'c'"}], "mark": {"type": "text", "font": "Open Sans", "fontSize": 14, "fontWeight": 600, "fill": "#4a4a4a"}, "encoding": {"text": {"field": "t"}}}
 ]},
{"width": 251, "height": 231, "view": {"stroke": null},
 "encoding": {"x": {"field": "x", "type": "quantitative", "scale": {"domain": [0, 251], "nice": false, "zero": false}, "axis": null},
              "y": {"field": "y", "type": "quantitative", "scale": {"domain": [-28, 203], "nice": false, "zero": false}, "axis": null}},
 "layer": [
  {"data": {"name": "fr"}, "transform": [{"filter": "datum.p == 6"}], "mark": {"type": "rule", "stroke": "#3c3c3c", "strokeWidth": 1.5}, "encoding": {"x2": {"field": "x2"}}},
  {"data": {"name": "tr"}, "transform": [{"filter": "datum.p == 6"}], "mark": {"type": "line", "interpolate": "monotone", "strokeWidth": 2, "strokeOpacity": 0.85}, "encoding": {"stroke": {"field": "b", "type": "nominal", "scale": {"domain": ["A","C","G","T","base"], "range": ["#5cb85c","#6464f0","#555555","#f06464","#8c7ae6"]}, "legend": null}, "detail": {"field": "s"}}},
  {"data": {"name": "lb"}, "transform": [{"filter": "datum.p == 6 && datum.k == 'n'"}], "mark": {"type": "text", "font": "Lato", "fontSize": 18, "fill": "#111111"}, "encoding": {"text": {"field": "t"}}},
  {"data": {"name": "lb"}, "transform": [{"filter": "datum.p == 6 && datum.k == 'l'"}], "mark": {"type": "text", "font": "Liberation Sans", "fontWeight": "bold", "fontSize": 12}, "encoding": {"text": {"field": "t"}, "fill": {"field": "b", "type": "nominal", "scale": {"domain": ["A","C","G","T","R"], "range": ["#3cb371","#4a9fd8","#555555","#e0474c","#555555"]}, "legend": null}}},
  {"data": {"name": "lb"}, "transform": [{"filter": "datum.p == 6 && datum.k == 'c'"}], "mark": {"type": "text", "font": "Open Sans", "fontSize": 14, "fontWeight": 600, "fill": "#4a4a4a"}, "encoding": {"text": {"field": "t"}}}
 ]}
]
}
